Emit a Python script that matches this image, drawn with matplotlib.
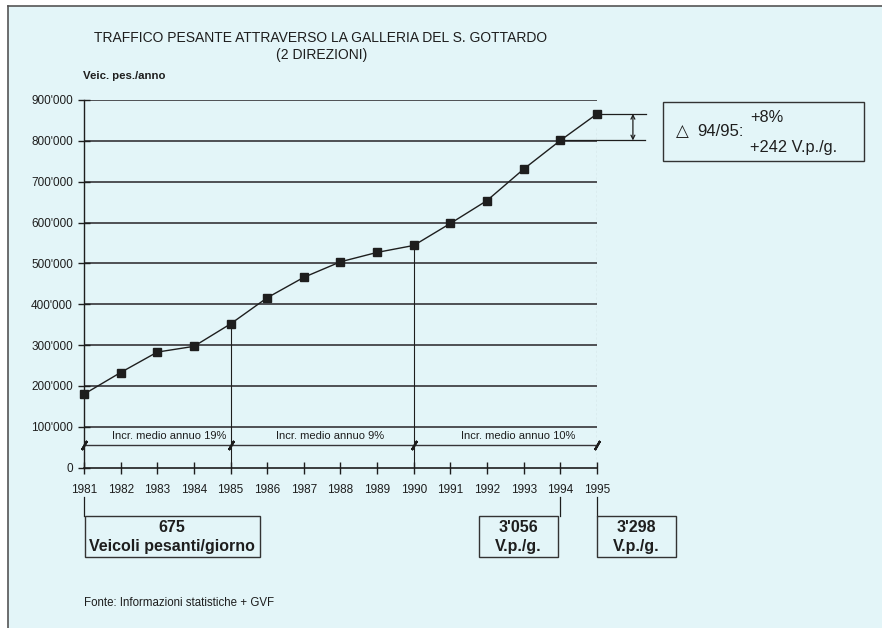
import matplotlib
matplotlib.use("Agg")
import matplotlib.pyplot as plt
from matplotlib.patches import Rectangle
from matplotlib.lines import Line2D

plt.rcParams['font.family'] = ['Liberation Sans', 'DejaVu Sans']

years = list(range(1981, 1996))
vehicles = [180000, 233000, 283000, 297000, 352000, 416000, 466000, 504000,
            527000, 544000, 598000, 654000, 731000, 801000, 866000]
yticks = [0, 100000, 200000, 300000, 400000, 500000, 600000, 700000, 800000, 900000]
ytick_labels = ["0" if v == 0 else "%d'000" % (v // 1000) for v in yticks]

periods = [(1981, 1985), (1985, 1990), (1990, 1995)]
period_labels = ["Incr. medio annuo 19%", "Incr. medio annuo 9%", "Incr. medio annuo 10%"]
period_text_x = [1983.32, 1987.71, 1992.85]

W, H = 882, 628
bg = '#e3f5f8'
ink = '#1e1e1e'
grid_c = '#363438'

fig = plt.figure(figsize=(W / 100, H / 100), dpi=100)
fig.patch.set_facecolor('white')


def fx(px):
    return px / W


def fy(py):
    return 1 - py / H


# page background and frame
fig.patches.append(Rectangle((fx(8), 0), 1 - fx(8), fy(6), transform=fig.transFigure,
                             facecolor=bg, edgecolor='none', zorder=-10))
fig.lines.append(Line2D([fx(8), 1], [fy(6), fy(6)], transform=fig.transFigure, color='#555555', lw=1.2))
fig.lines.append(Line2D([fx(8), fx(8)], [0, fy(6)], transform=fig.transFigure, color='#555555', lw=1.2))

ax = fig.add_axes([fx(84), fy(467.7), fx(597) - fx(84), fy(100) - fy(467.7)])
ax.set_facecolor('none')
ax.set_xlim(1981, 1995)
ax.set_ylim(0, 900000)

for s in ['top', 'right']:
    ax.spines[s].set_visible(False)
ax.spines['left'].set_color(ink)
ax.spines['bottom'].set_color(ink)
ax.spines['left'].set_linewidth(1.0)
ax.spines['bottom'].set_linewidth(1.2)

ax.set_yticks(yticks)
ax.set_yticklabels(ytick_labels)
ax.set_xticks(years)
ax.set_xticklabels([str(y) for y in years])
ax.tick_params(axis='both', direction='inout', length=8, width=1, color=ink,
               labelsize=8.5, labelcolor=ink)
ax.tick_params(axis='y', pad=4)
ax.tick_params(axis='x', pad=8)

for v in yticks[1:]:
    ax.axhline(v, color=grid_c, lw=1.2, zorder=1)

# vertical markers at period boundaries
ax.vlines([1985, 1990], 0, [vehicles[4], vehicles[9]], color=ink, lw=0.8, zorder=2)
ax.vlines([1995], 0, [vehicles[14] - 30000], color='#555555', lw=0.8, linestyles=(0, (2, 2)), zorder=2)

# period bracket line
ax.plot([1981, 1995], [55000, 55000], color=grid_c, lw=1.0, zorder=2, clip_on=False)
ax.plot([p[0] for p in periods] + [1995], [55000] * 4, ls='none', marker=(2, 2, -30),
        markersize=7.5, mew=1.6, color=ink, clip_on=False, zorder=3)
for xt, lab in zip(period_text_x, period_labels):
    ax.text(xt, 78000, lab, ha='center', va='center', fontsize=8, color=ink)

# main series
ax.plot(years, vehicles, color=ink, lw=1.0, marker='s', markersize=5.5, zorder=4, clip_on=False)

# difference 94/95
ax.plot([1995, 1996.34], [vehicles[14]] * 2, color=ink, lw=0.9, clip_on=False)
ax.plot([1994.13, 1996.3], [vehicles[13]] * 2, color=ink, lw=0.9, clip_on=False)
ax.annotate('', xy=(1995.98, vehicles[14]), xytext=(1995.98, vehicles[13]),
            arrowprops=dict(arrowstyle='<->', color=ink, lw=0.9, shrinkA=0, shrinkB=0,
                            mutation_scale=7), annotation_clip=False)

# connectors to boxes
for yr in [1981, 1994, 1995]:
    ax.plot([yr, yr], [-72000, -119000], color=ink, lw=0.9, clip_on=False)


def box(x0, y0, x1, y1, lw=1.0):
    fig.patches.append(Rectangle((fx(x0), fy(y1)), fx(x1) - fx(x0), fy(y0) - fy(y1),
                                 transform=fig.transFigure, facecolor='none',
                                 edgecolor='#333333', lw=lw))


box(85, 516, 260, 557)
fig.text(fx(172), fy(527), "675", ha='center', va='center', fontsize=11.5, weight='bold', color=ink)
fig.text(fx(172), fy(546), "Veicoli pesanti/giorno", ha='center', va='center', fontsize=11.5,
         weight='bold', color=ink)

box(479, 516, 558, 557)
fig.text(fx(518.5), fy(527), "3'056", ha='center', va='center', fontsize=11.5, weight='bold', color=ink)
fig.text(fx(518.5), fy(546), "V.p./g.", ha='center', va='center', fontsize=11.5, weight='bold', color=ink)

box(597, 516, 676, 557)
fig.text(fx(636.5), fy(527), "3'298", ha='center', va='center', fontsize=11.5, weight='bold', color=ink)
fig.text(fx(636.5), fy(546), "V.p./g.", ha='center', va='center', fontsize=11.5, weight='bold', color=ink)

box(663, 102, 864, 160.5)
fig.text(fx(676), fy(132), "\u25b3", ha='left', va='center', fontsize=12, color=ink)
fig.text(fx(697), fy(132), "94/95:", ha='left', va='center', fontsize=12, color=ink)
fig.text(fx(750), fy(117), "+8%", ha='left', va='center', fontsize=11.8, color=ink)
fig.text(fx(750), fy(148), "+242 V.p./g.", ha='left', va='center', fontsize=11.8, color=ink)

# titles
fig.text(fx(321), fy(38), "TRAFFICO PESANTE ATTRAVERSO LA GALLERIA DEL S. GOTTARDO",
         ha='center', va='center', fontsize=10, color=ink)
fig.text(fx(322), fy(55), "(2 DIREZIONI)", ha='center', va='center', fontsize=10, color=ink)
fig.text(fx(83), fy(76), "Veic. pes./anno", ha='left', va='center', fontsize=8.2, weight='bold', color=ink)
fig.text(fx(84), fy(603), "Fonte: Informazioni statistiche + GVF", ha='left', va='center',
         fontsize=8.3, color=ink)

fig.savefig('out.png', dpi=100, facecolor=fig.get_facecolor())
